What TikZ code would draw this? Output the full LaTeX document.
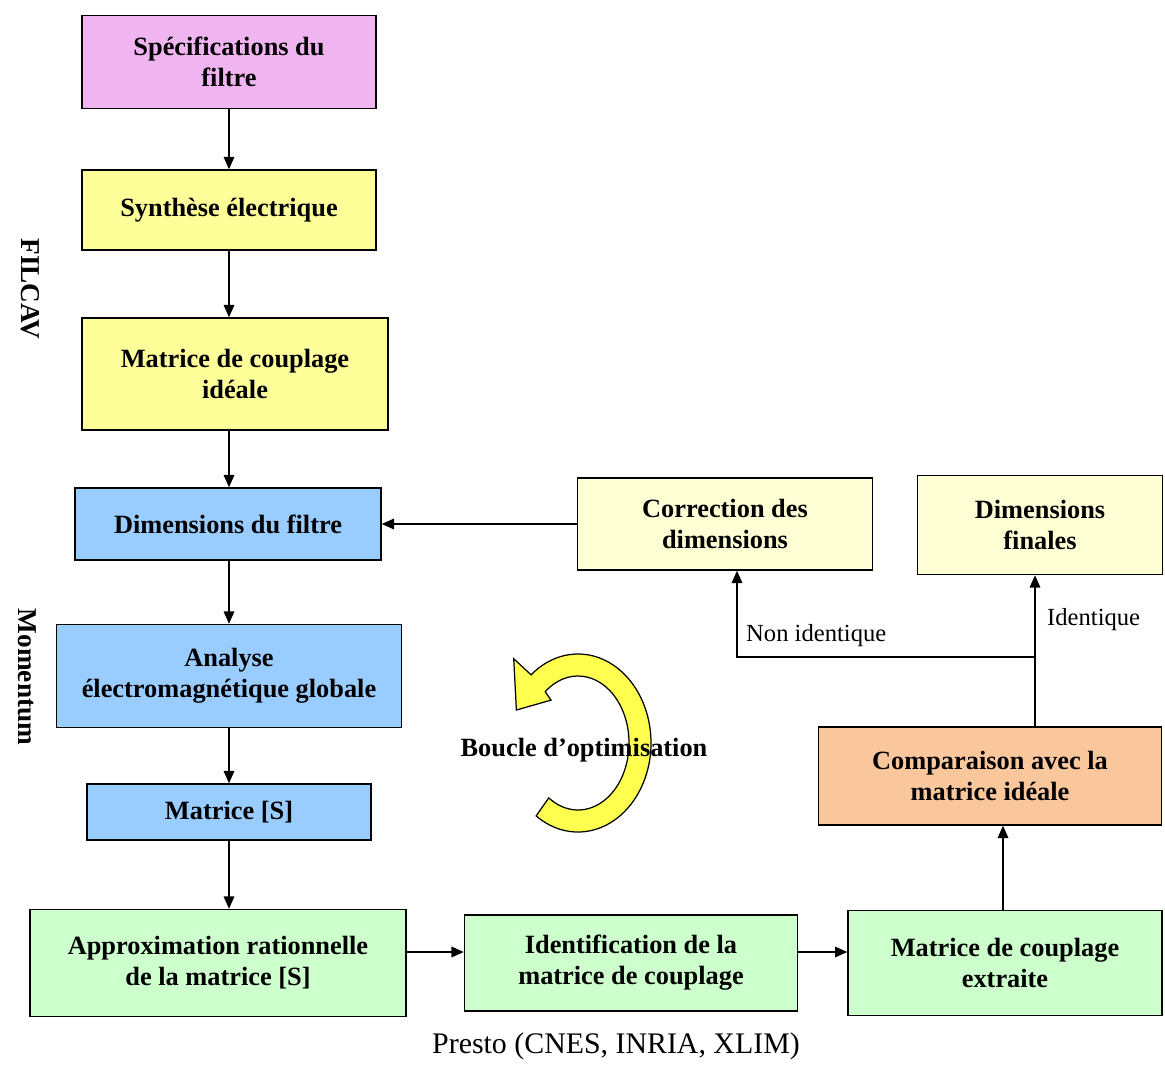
\documentclass[tikz,border=0pt]{standalone}
\usepackage{fontspec}
\setmainfont{Liberation Serif}
\usetikzlibrary{arrows.meta}
\definecolor{rose}{RGB}{240,180,240}
\definecolor{jaune}{RGB}{255,255,153}
\definecolor{jaunepale}{RGB}{255,255,214}
\definecolor{bleu}{RGB}{153,204,255}
\definecolor{vert}{RGB}{204,255,204}
\definecolor{orange}{RGB}{250,198,155}
\definecolor{boucle}{RGB}{255,255,80}
\begin{document}
\begin{tikzpicture}[x=0.02cm, y=-0.02cm,
  bloc/.style={draw, line width=0.85pt, align=center, inner sep=2pt,
    font=\fontsize{15}{17.6}\selectfont\bfseries},
  arr/.style={line width=0.85pt, -{Triangle[length=7pt,width=6pt]}},
  lab/.style={font=\fontsize{14}{16}\selectfont}]
  \useasboundingbox (0,0) rectangle (1165,1067);
  % chaine de conception
  \node[bloc, fill=rose, minimum width=5.88cm, minimum height=1.86cm] (spec) at (229,62) {Spécifications du\\filtre};
  \node[bloc, fill=jaune, minimum width=5.88cm, minimum height=1.6cm] (synth) at (229,210) {Synthèse électrique};
  \node[bloc, fill=jaune, minimum width=6.12cm, minimum height=2.24cm] (ideal) at (235,374) {Matrice de couplage\\idéale};
  \node[bloc, fill=bleu, minimum width=6.12cm, minimum height=1.44cm] (dim) at (228,524) {Dimensions du filtre};
  \node[bloc, fill=bleu, minimum width=6.9cm, minimum height=2.06cm] (analyse) at (229,676) {Analyse\\électromagnétique globale};
  \node[bloc, fill=bleu, minimum width=5.68cm, minimum height=1.12cm] (matS) at (229,812) {Matrice [S]};
  \node[bloc, fill=vert, minimum width=7.52cm, minimum height=2.14cm] (approx) at (218,963) {Approximation rationnelle\\de la matrice [S]};
  \node[bloc, fill=vert, minimum width=6.66cm, minimum height=1.92cm] (ident) at (631,963) {Identification de la\\matrice de couplage};
  \node[bloc, fill=vert, minimum width=6.28cm, minimum height=2.1cm] (extr) at (1005,963) {Matrice de couplage\\extraite};
  \node[bloc, fill=orange, minimum width=6.86cm, minimum height=1.96cm] (comp) at (990,776) {Comparaison avec la\\matrice idéale};
  \node[bloc, fill=jaunepale, minimum width=5.9cm, minimum height=1.84cm] (corr) at (725,524) {Correction des\\dimensions};
  \node[bloc, fill=jaunepale, minimum width=4.9cm, minimum height=1.98cm] (final) at (1040,525) {Dimensions\\finales};

  \draw[arr] (spec.south -| 229,0) -- (synth.north -| 229,0);
  \draw[arr] (synth.south -| 229,0) -- (ideal.north -| 229,0);
  \draw[arr] (ideal.south -| 229,0) -- (dim.north -| 229,0);
  \draw[arr] (dim.south -| 229,0) -- (analyse.north -| 229,0);
  \draw[arr] (analyse.south -| 229,0) -- (matS.north -| 229,0);
  \draw[arr] (matS.south -| 229,0) -- (approx.north -| 229,0);
  \draw[arr] ([yshift=0.22cm]approx.east) -- ([yshift=0.22cm]ident.west);
  \draw[arr] ([yshift=0.22cm]ident.east) -- ([yshift=0.22cm]extr.west);
  \draw[arr] (extr.north -| 1003,0) -- (comp.south -| 1003,0);
  \draw[arr] (corr.west) -- (dim.east);

  % test de la comparaison
  \coordinate (split) at (1035,657);
  \draw[arr] (comp.north -| split) -- (final.south -| split);
  \draw[arr] (split) -| ([xshift=0.24cm]corr.south);
  \node[lab, anchor=west] (nonid) at (740,636) {Non identique};
  \node[lab, anchor=west] (id) at (1041,620) {Identique};

  % boucle d'optimisation
  \begin{scope}[shift={(578,743)}, x=0.02cm, y=0.02cm]
    \filldraw[fill=boucle, draw=black, line width=0.7pt]
      (-125:73 and 89) arc[start angle=-125, end angle=130, x radius=73, y radius=89]
      -- (130:100 and 110) -- (155:68 and 78) -- (130:42 and 56)
      -- (130:51 and 67) arc[start angle=130, end angle=-125, x radius=51, y radius=67]
      -- cycle;
  \end{scope}
  \node[font=\fontsize{15}{17.6}\selectfont\bfseries] (loop) at (584,750) {Boucle d'optimisation};

  % outils
  \node[font=\fontsize{15.5}{18}\selectfont\bfseries, rotate=-90] (filcav) at (30,289) {FILCAV};
  \node[font=\fontsize{15.5}{18}\selectfont\bfseries, rotate=-90] (momentum) at (27,677) {Momentum};
  \node[font=\fontsize{17}{20}\selectfont] (presto) at (616,1046) {Presto (CNES, INRIA, XLIM)};
\end{tikzpicture}
\end{document}
